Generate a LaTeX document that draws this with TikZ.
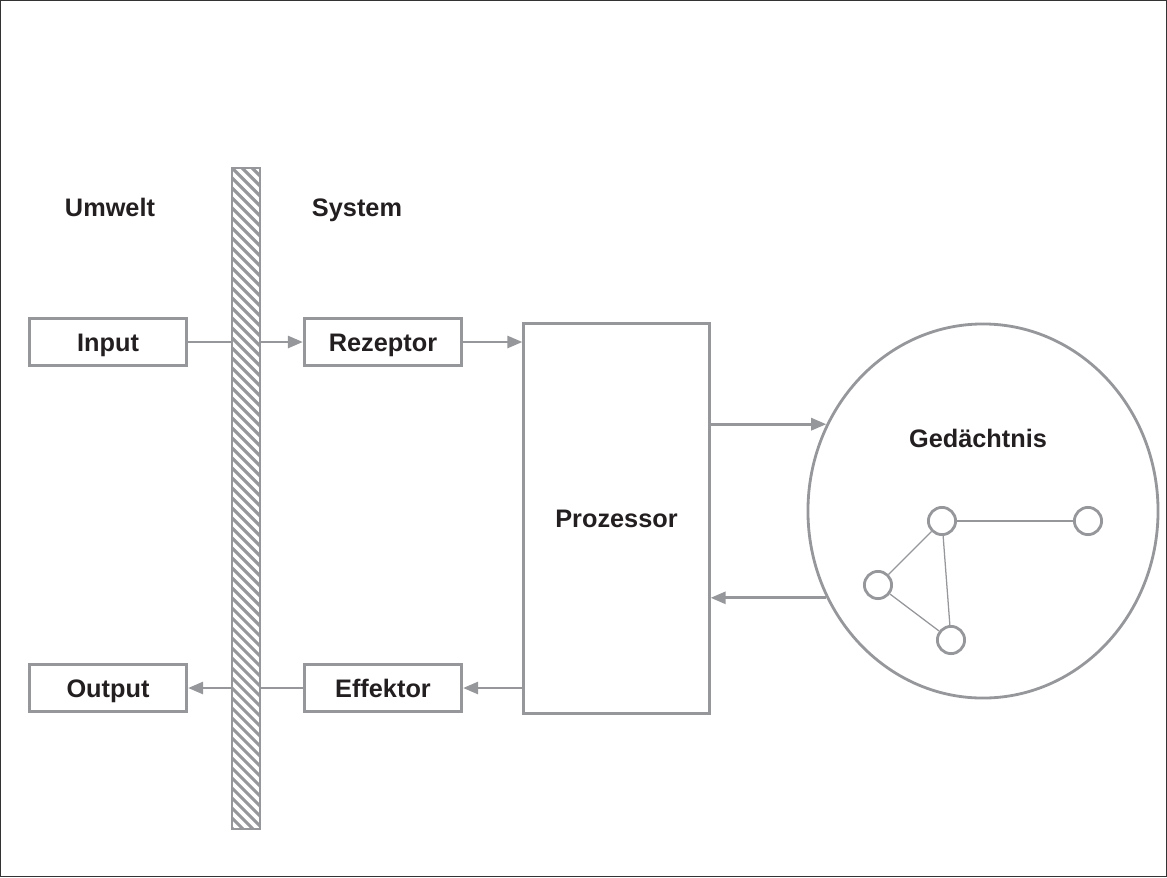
\documentclass[tikz,border=0pt]{standalone}
\usepackage{fontspec}
\setmainfont{Liberation Sans}
\usetikzlibrary{shapes.geometric,arrows.meta}

\definecolor{liniengrau}{RGB}{150,151,155}
\definecolor{textschwarz}{RGB}{35,31,32}

\begin{document}
\begin{tikzpicture}[
    x=0.025cm, y=-0.025cm,
    font=\fontsize{18}{20}\selectfont\bfseries,
    text=textschwarz,
    kasten/.style={draw=liniengrau, fill=white, line width=2pt, minimum width=3.93cm, minimum height=1.18cm, inner sep=0pt, text height=13pt, text depth=0pt},
    proz/.style={draw=liniengrau, fill=white, line width=2pt, minimum width=4.63cm, minimum height=9.73cm, inner sep=0pt, text height=13pt, text depth=0pt},
    speicher/.style={draw=liniengrau, ellipse, line width=2pt, minimum width=8.75cm, minimum height=9.35cm, inner sep=0pt},
    knoten/.style={draw=liniengrau, circle, fill=white, line width=2pt, minimum size=0.68cm, inner sep=0pt},
    kante/.style={draw=liniengrau, line width=0.9pt},
    fluss/.style={draw=liniengrau, line width=2.1pt, -{Triangle[length=3.8mm, width=3mm]}},
    wand/.style={draw=liniengrau, fill=white, line width=1.5pt, minimum width=0.7cm, minimum height=16.53cm, inner sep=0pt,
        path picture={\foreach \k in {-3,...,68}
            \draw[liniengrau, line width=2.2pt] ([yshift=-\k*0.25cm]path picture bounding box.north west) -- ++(1cm,-1cm);}},
    titel/.style={inner sep=0pt, text height=13pt, text depth=0pt}
]

    % Rahmen
    \useasboundingbox (0,0) rectangle (1167,877);
    \draw[draw=black!80, line width=0.8pt] (0.6,0.6) rectangle (1166.4,876.4);

    % Ueberschriften
    \node[titel] (umwelt) at (110,207) {Umwelt};
    \node[titel] (system) at (357,207) {System};

    % Kaesten
    \node[kasten] (input) at (108,342) {Input};
    \node[kasten] (output) at (108,688) {Output};
    \node[kasten] (rezeptor) at (383,342) {Rezeptor};
    \node[kasten] (effektor) at (383,688) {Effektor};
    \node[proz] (prozessor) at (616.5,518.5) {Prozessor};

    % Gedaechtnis mit Netz
    \node[speicher] (gedaechtnis) at (983,511) {};
    \node[titel] (gedtext) at (978,438) {Gedächtnis};
    \node[knoten] (k1) at (942,521) {};
    \node[knoten] (k2) at (1088,521) {};
    \node[knoten] (k3) at (878,585) {};
    \node[knoten] (k4) at (951,640) {};
    \draw[kante] (k1) -- (k2);
    \draw[kante] (k1) -- (k3);
    \draw[kante] (k1) -- (k4);
    \draw[kante] (k3) -- (k4);

    % Fluesse
    \draw[fluss] (input.east) -- (rezeptor.west);
    \draw[fluss] (rezeptor.east) -- (rezeptor.east -| prozessor.west);
    \draw[fluss] (prozessor.east |- gedaechtnis.151.7) -- (gedaechtnis.151.7);
    \draw[fluss] (gedaechtnis.209.7) -- (prozessor.east |- gedaechtnis.209.7);
    \draw[fluss] (prozessor.west |- effektor.east) -- (effektor.east);
    \draw[fluss] (effektor.west) -- (output.east);

    % Grenze Umwelt / System
    \node[wand] (grenze) at (246,498.5) {};

\end{tikzpicture}
\end{document}
